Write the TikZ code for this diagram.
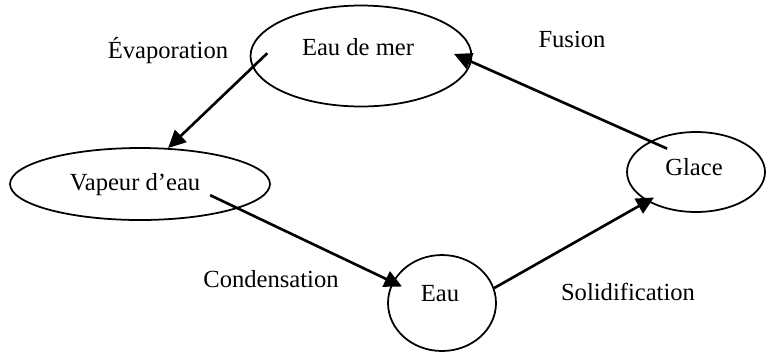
\documentclass[tikz,border=0pt]{standalone}
\usepackage{fontspec}
\setmainfont{Liberation Serif}
\usepackage{tikz}
\usetikzlibrary{positioning, arrows.meta, shapes, calc}

\begin{document}
\begin{tikzpicture}[x=0.02cm, y=-0.02cm,
  etat/.style={draw, ellipse, line width=1pt, inner sep=0pt},
  fleche/.style={-{Triangle[length=10pt, width=9.5pt]}, line width=1.5pt},
  txt/.style={anchor=base, inner sep=0pt, font=\fontsize{14}{16}\selectfont}]
\useasboundingbox (0,0) rectangle (770,353);
% Etats
\node[etat, minimum width=4.42cm, minimum height=2.02cm] (mer) at (361,56) {};
\node[txt] (mertxt) at (358,55) {Eau de mer};
\node[etat, minimum width=5.2cm, minimum height=1.44cm] (vap) at (140,184) {};
\node[txt] (vaptxt) at (135,190) {Vapeur d'eau};
\node[etat, minimum width=2.16cm, minimum height=1.92cm] (eau) at (442,303) {};
\node[txt] (eautxt) at (440,301) {Eau};
\node[etat, minimum width=2.76cm, minimum height=1.6cm] (glace) at (696,172) {};
\node[txt] (glacetxt) at (694,175) {Glace};

% Changements d'etat
\draw[fleche, shorten <=-11.7pt] (mer.186) -- (vap.52);
\draw[fleche, shorten <=-17.6pt, shorten >=-6pt] (vap.346) -- (eau.157);
\draw[fleche, shorten >=-4.4pt] (eau.16) -- (glace.211);
\draw[fleche, shorten <=-10.5pt, shorten >=-11pt] (glace.146) -- (mer.357);

\node[txt] (evap) at (168,58) {Évaporation};
\node[txt] (fus) at (572,47) {Fusion};
\node[txt] (cond) at (271,287) {Condensation};
\node[txt] (solid) at (628,300) {Solidification};
\end{tikzpicture}
\end{document}
